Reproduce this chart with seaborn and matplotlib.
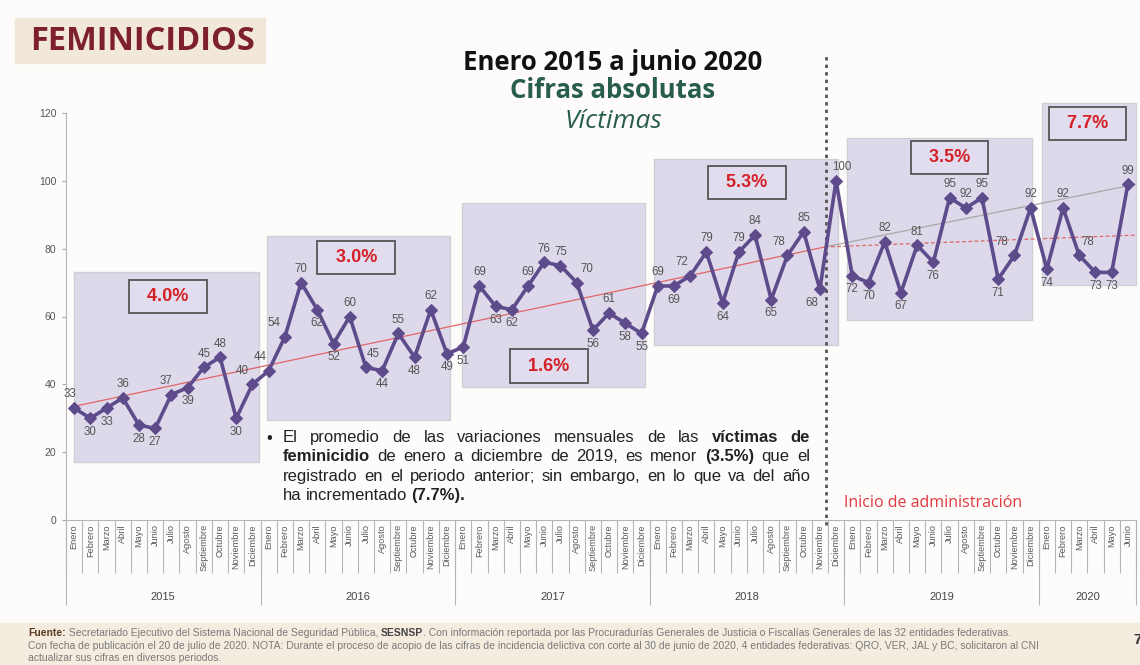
import numpy as np
import pandas as pd
import seaborn as sb
import matplotlib.pyplot as plt
from matplotlib.patches import Rectangle

# datos: victimas de feminicidio por mes, enero 2015 - junio 2020
years = [2015, 2016, 2017, 2018, 2019, 2020]
month_names = ['Enero', 'Febrero', 'Marzo', 'Abril', 'Mayo', 'Junio', 'Julio',
               'Agosto', 'Septiembre', 'Octubre', 'Noviembre', 'Diciembre']
v2015 = [33, 30, 33, 36, 28, 27, 37, 39, 45, 48, 30, 40]
v2016 = [44, 54, 70, 62, 52, 60, 45, 44, 55, 48, 62, 49]
v2017 = [51, 69, 63, 62, 69, 76, 75, 70, 56, 61, 58, 55]
v2018 = [69, 69, 72, 79, 64, 79, 84, 65, 78, 85, 68, 100]
v2019 = [72, 70, 82, 67, 81, 76, 95, 92, 95, 71, 78, 92]
v2020 = [74, 92, 78, 73, 73, 99]
pct_labels = ['4.0%', '3.0%', '1.6%', '5.3%', '3.5%', '7.7%']
# tendencias
trend_x = [0, 46.3]
trend_y = [33.5, 80.5]
trend2_x = [46.3, 65.5]
trend2_red = [80.5, 84.0]
trend2_gray = [80.5, 99.0]

# a = etiqueta arriba, b = abajo
label_pos = list('abbabbabaaba' + 'aaabbaababab' + 'babbaaaababb' +
                 'abaabaabaaba' + 'bbababaaabaa' + 'baabba')
label_dx = {0: -3, 6: -4, 11: -7, 12: -6, 13: -8, 18: 5, 31: 7, 38: -6, 44: -6,
            46: -6, 47: 4, 58: -9, 62: 6}

values = v2015 + v2016 + v2017 + v2018 + v2019 + v2020
months = (month_names * 6)[:len(values)]
df = pd.DataFrame({'x': np.arange(len(values)), 'victimas': values, 'mes': months})

sb.set_theme(style='white')
plt.rcParams['font.family'] = ['Liberation Sans', 'DejaVu Sans']

fig = plt.figure(figsize=(11.4, 6.65), dpi=100)
fig.patch.set_facecolor('#fdfcfa')
ax = fig.add_axes([66 / 1140, 1 - 520 / 665, (1136 - 66) / 1140, (520 - 113) / 665])
ax.set_facecolor('none')
renderer = fig.canvas.get_renderer()


def text_run(x_px, y_px, parts, va='center', **kw):
    # coloca trozos de texto uno tras otro (para mezclar negritas)
    xpos = x_px
    for s, style in parts:
        a = fig.text(xpos / 1140, 1 - y_px / 665, s, va=va, **dict(kw, **style))
        xpos += a.get_window_extent(renderer).width


# bandas de fondo
fig.patches.append(Rectangle((15 / 1140, 1 - 63 / 665), 250 / 1140, 45 / 665,
                             transform=fig.transFigure, color='#f1e8da', zorder=0))
fig.patches.append(Rectangle((0, 0), 1, 42 / 665, transform=fig.transFigure,
                             color='#f3ecdf', zorder=0))

# recuadros por anio
boxes = [(0, 11.4, 17.1, 73.2), (11.9, 23.2, 29.5, 83.8), (23.9, 35.2, 39.2, 93.5),
         (35.8, 47.1, 51.6, 106.5), (47.7, 59.1, 59.0, 112.7), (59.7, 65.5, 69.3, 123)]
for x0, x1, y0, y1 in boxes:
    ax.add_patch(Rectangle((x0, y0), x1 - x0, y1 - y0, facecolor='#ddd8ea',
                           edgecolor='#cfcfd6', lw=1, zorder=1, clip_on=False))

pct_xy = [(5.8, 65.8), (17.4, 77.3), (29.3, 45.4), (41.5, 99.4), (54.0, 106.8), (62.5, 116.8)]
for lab, (px, py) in zip(pct_labels, pct_xy):
    ax.text(px, py, '  ' + lab + '  ', ha='center', va='center', fontsize=13,
            fontweight='bold', color='#d42027', zorder=5, clip_on=False,
            bbox=dict(boxstyle='square,pad=0.45', fc='#e2ddee', ec='#555555', lw=1.3))

# tendencias
ax.plot(trend_x, trend_y, color='#e06666', lw=0.9, zorder=2)
ax.plot(trend2_x, trend2_gray, color='#a8a8a8', lw=0.9, zorder=2)
ax.plot(trend2_x, trend2_red, color='#e06666', lw=0.9, ls=(0, (3, 2)), zorder=2)

sb.lineplot(data=df, x='x', y='victimas', ax=ax, color='#5e4b8b', lw=2.6,
            marker='D', markersize=6, markeredgecolor='#5e4b8b', zorder=4)

for i, v in enumerate(values):
    up = label_pos[i] == 'a'
    ax.annotate(str(v), (i, v), xytext=(label_dx.get(i, 0), 5.5 if up else -5.5),
                textcoords='offset points', ha='center', va='bottom' if up else 'top',
                fontsize=8.3, color='#555555', zorder=6)

# inicio de administracion
ax.vlines(46.4, -1.5, 137, colors='#555555', lw=2, linestyles=(0, (1.2, 1.5)),
          clip_on=False, zorder=3)
ax.text(47.5, 5, 'Inicio de administración', color='#e0393e', fontsize=11.5,
        fontfamily='Open Sans', va='center', ha='left')

# ejes
ax.set_xlim(-0.5, 65.5)
ax.set_ylim(0, 120)
ax.set_yticks(range(0, 121, 20))
ax.tick_params(axis='y', length=3, width=0.8, color='#aaaaaa', labelsize=7.5,
               labelcolor='#555555', pad=4, left=True)
ax.set_xticks(df['x'], labels=df['mes'], rotation=90, fontsize=6.6, color='#5a5a5a')
ax.set_xticks(np.arange(-0.5, 66, 1), minor=True)
ax.tick_params(axis='x', which='major', length=0, pad=3)
ax.tick_params(axis='x', which='minor', length=38, width=0.8, color='#b5b5b5',
               bottom=True, direction='out')
ax.set_xlabel('')
ax.set_ylabel('')
sb.despine(ax=ax)
for s in ['left', 'bottom']:
    ax.spines[s].set_color('#b5b5b5')
    ax.spines[s].set_linewidth(0.8)

year_edges = [-0.5, 11.5, 23.5, 35.5, 47.5, 59.5, 65.5]
ax.vlines(year_edges, -0.21, 0, colors='#b5b5b5', lw=0.8,
          transform=ax.get_xaxis_transform(), clip_on=False)
for y0, y1, yr in zip(year_edges[:-1], year_edges[1:], years):
    ax.text((y0 + y1) / 2, -0.19, str(yr), transform=ax.get_xaxis_transform(),
            ha='center', va='center', fontsize=8, color='#444444')

# titulos
fig.text(30 / 1140, 1 - 42 / 665, 'FEMINICIDIOS', fontsize=23.5, fontweight='bold',
         color='#7d1f2e', fontfamily='Open Sans', va='center', ha='left')
fig.text(613 / 1140, 1 - 62 / 665, 'Enero 2015 a junio 2020', fontsize=18.5,
         fontweight='bold', color='#111111', fontfamily='Open Sans', ha='center', va='center')
fig.text(613 / 1140, 1 - 91 / 665, 'Cifras absolutas', fontsize=18.5, fontweight='bold',
         color='#285c4d', fontfamily='Open Sans', ha='center', va='center')
fig.text(613 / 1140, 1 - 121 / 665, 'Víctimas', fontsize=19, style='italic',
         color='#285c4d', fontfamily='Open Sans', ha='center', va='center')

# texto con vinietas, justificado a mano
lines = [
    [('El promedio de las variaciones mensuales de las', False), ('víctimas de', True)],
    [('feminicidio', True), ('de enero a diciembre de 2019, es menor', False),
     ('(3.5%)', True), ('que el', False)],
    [('registrado en el periodo anterior; sin embargo, en lo que va del año', False)],
    [('ha incrementado', False), ('(7.7%).', True)],
]
fig.text(266 / 1140, 1 - 438 / 665, '•', fontsize=12, color='#222222', va='center')
x_left, x_right = 283, 810
for k, parts in enumerate(lines):
    ybase = 1 - (442 + 19.3 * k) / 665
    words = [(w, b) for s, b in parts for w in s.split()]
    arts = [fig.text(0, ybase, w, fontsize=12, color='#222222',
                     fontweight='bold' if b else 'normal', va='baseline') for w, b in words]
    widths = [a.get_window_extent(renderer).width for a in arts]
    if k < len(lines) - 1:
        gap = (x_right - x_left - sum(widths)) / (len(arts) - 1)
    else:
        gap = 4.3
    xpos = x_left
    for a, wd in zip(arts, widths):
        a.set_x(xpos / 1140)
        xpos += wd + gap

# pie de pagina
foot = dict(fontsize=7.5, color='#7a7a7a')
bold_dark = {'fontweight': 'bold', 'color': '#5a3b22'}
text_run(28, 633, [('Fuente:', bold_dark),
                   (' Secretariado Ejecutivo del Sistema Nacional de Seguridad Pública, ', {}),
                   ('SESNSP', {'fontweight': 'bold', 'color': '#444444'}),
                   ('. Con información reportada por las Procuradurías Generales de Justicia o '
                    'Fiscalías Generales de las 32 entidades federativas.', {})], **foot)
fig.text(28 / 1140, 1 - 646 / 665,
         'Con fecha de publicación el 20 de julio de 2020. NOTA: Durante el proceso de acopio '
         'de las cifras de incidencia delictiva con corte al 30 de junio de 2020, 4 entidades '
         'federativas: QRO, VER, JAL y BC, solicitaron al CNI', va='center', **foot)
fig.text(28 / 1140, 1 - 658 / 665, 'actualizar sus cifras en diversos periodos.',
         va='center', **foot)
fig.text(1133 / 1140, 1 - 640 / 665, '7', fontsize=11, fontweight='bold',
         color='#333333', va='center')

plt.savefig('out.png', dpi=100)
